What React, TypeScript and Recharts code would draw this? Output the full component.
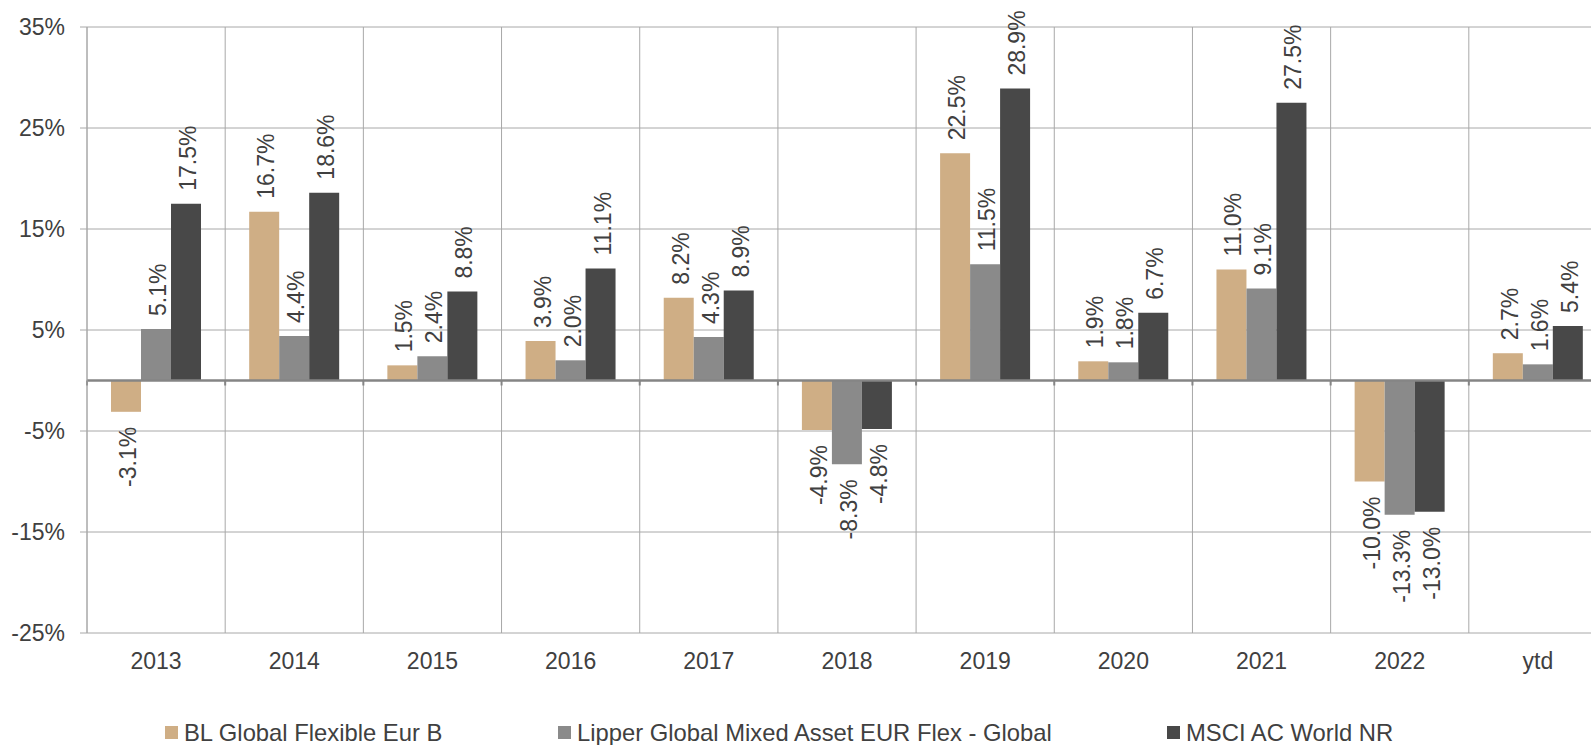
import { Bar, BarChart, CartesianGrid, LabelList, ReferenceLine, XAxis, YAxis } from 'recharts';

const years = ['2013', '2014', '2015', '2016', '2017', '2018', '2019', '2020', '2021', '2022', 'ytd'];
const blFlexible = [-3.1, 16.7, 1.5, 3.9, 8.2, -4.9, 22.5, 1.9, 11.0, -10.0, 2.7];
const lipperMixed = [5.1, 4.4, 2.4, 2.0, 4.3, -8.3, 11.5, 1.8, 9.1, -13.3, 1.6];
const msciWorld = [17.5, 18.6, 8.8, 11.1, 8.9, -4.8, 28.9, 6.7, 27.5, -13.0, 5.4];
const yTicks = [-25, -15, -5, 5, 15, 25, 35];

const seriesNames = ['BL Global Flexible Eur B', 'Lipper Global Mixed Asset EUR Flex - Global', 'MSCI AC World NR'];
const colors = ['#cfae85', '#8a8a8a', '#484848'];
const legendLefts = [165, 558, 1167];

const chartData = years.map((year, i) => ({
  year,
  bl: blFlexible[i],
  lipper: lipperMixed[i],
  msci: msciWorld[i],
}));

const font = '"Liberation Sans", Arial, sans-serif';
const textColor = '#404040';
const gridColor = '#a8a8a8';

const ValueLabel = (props: any) => {
  const { x, y, width, height, value } = props;
  if (value == null) return null;
  const cx = Number(x) + Number(width) / 2;
  const top = Math.min(Number(y), Number(y) + Number(height));
  const bottom = Math.max(Number(y), Number(y) + Number(height));
  const positive = value >= 0;
  const bx = cx + 10;
  const by = positive ? top - 13 : bottom + 15;
  return (
    <text
      x={bx}
      y={by}
      transform={`rotate(-90, ${bx}, ${by})`}
      textAnchor={positive ? 'start' : 'end'}
      fontSize={23}
      fontFamily={font}
      fill={textColor}
    >
      {`${Number(value).toFixed(1)}%`}
    </text>
  );
};

const ZeroLine = (props: any) => {
  const { x1, y1, x2, y2 } = props;
  const step = (x2 - x1) / years.length;
  return (
    <g>
      <line x1={x1} y1={y1} x2={x2} y2={y2} stroke="#858585" strokeWidth={2.5} />
      {years.map((_, i) => (
        <line key={`tick-${String(i)}`} x1={x1 + i * step} x2={x1 + i * step} y1={y1} y2={y1 + 5} stroke="#858585" strokeWidth={2} />
      ))}
    </g>
  );
};

export default function App() {
  return (
    <div style={{ position: 'fixed', left: 0, top: 0, width: 1591, height: 745, overflow: 'hidden', background: '#fff' }}>
      <BarChart
        width={1607}
        height={745}
        data={chartData}
        margin={{ top: 27, right: 0, bottom: 52, left: 0 }}
        barGap={0}
        barSize={30}
      >
        <CartesianGrid
          stroke={gridColor}
          horizontalValues={yTicks}
          verticalCoordinatesGenerator={({ offset }: any) =>
            years.map((_, i) => offset.left + (i * offset.width) / years.length).concat(offset.left + offset.width)
          }
        />
        <XAxis
          dataKey="year"
          axisLine={false}
          tickLine={false}
          tickSize={0}
          tickMargin={20}
          height={60}
          interval={0}
          tick={{ fontSize: 23, fill: textColor, fontFamily: font }}
        />
        <YAxis
          width={87}
          domain={[-25, 35]}
          ticks={yTicks}
          interval={0}
          tickFormatter={(v: number) => `${v}%`}
          axisLine={{ stroke: gridColor }}
          tickLine={{ stroke: gridColor }}
          tickSize={7}
          tickMargin={15}
          tick={{ fontSize: 23, fill: textColor, fontFamily: font }}
        />
        <Bar dataKey="bl" fill={colors[0]} isAnimationActive={false}>
          <LabelList dataKey="bl" content={<ValueLabel />} />
        </Bar>
        <Bar dataKey="lipper" fill={colors[1]} isAnimationActive={false}>
          <LabelList dataKey="lipper" content={<ValueLabel />} />
        </Bar>
        <Bar dataKey="msci" fill={colors[2]} isAnimationActive={false}>
          <LabelList dataKey="msci" content={<ValueLabel />} />
        </Bar>
        <ReferenceLine y={0} shape={(p: any) => <ZeroLine {...p} />} />
      </BarChart>
      {seriesNames.map((name, i) => (
        <div
          key={name}
          style={{
            position: 'absolute',
            left: legendLefts[i],
            top: 719,
            display: 'flex',
            alignItems: 'center',
            fontFamily: font,
            fontSize: 23.8,
            color: textColor,
            lineHeight: '27px',
            whiteSpace: 'nowrap',
          }}
        >
          <span style={{ width: 13, height: 13, background: colors[i], marginRight: 6, display: 'inline-block' }} />
          <span>{name}</span>
        </div>
      ))}
    </div>
  );
}
